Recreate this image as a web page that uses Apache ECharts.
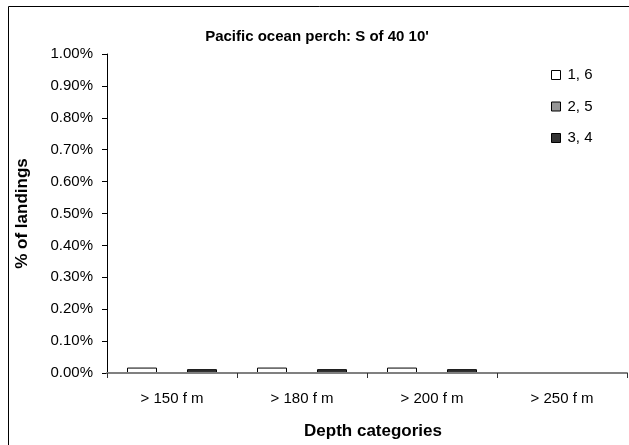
<!DOCTYPE html>
<html>
<head>
<meta charset="utf-8">
<script src="https://cdn.jsdelivr.net/npm/echarts@6/dist/echarts.min.js"></script>
<style>
html,body{margin:0;padding:0;background:#fff;}
#chart{width:629px;height:445px;}
</style>
</head>
<body>
<div id="chart"></div>
<script>
const categories = ['> 150 f m', '> 180 f m', '> 200 f m', '> 250 f m'];
const seriesNames = ['1, 6', '2, 5', '3, 4'];
const values16 = [0.017, 0.017, 0.017, 0];
const values25 = [0, 0, 0, 0];
const values34 = [0.012, 0.012, 0.012, 0];
const yTicks = [0, 0.1, 0.2, 0.3, 0.4, 0.5, 0.6, 0.7, 0.8, 0.9, 1.0];

const font = 'Liberation Sans, Arial, sans-serif';
const chart = echarts.init(document.getElementById('chart'));
const colors = ['#ffffff', '#969696', '#333333'];
const allValues = [values16, values25, values34];

chart.setOption({
  animation: false,
  textStyle: { fontFamily: font },
  graphic: [{
    type: 'rect',
    shape: { x: 8.5, y: 6.5, width: 640, height: 460 },
    style: { fill: 'none', stroke: '#000', lineWidth: 1 },
    silent: true, z: -1
  }],
  title: {
    text: "Pacific ocean perch: S of 40 10'",
    left: 317, top: 29, textAlign: 'center', padding: 0,
    textStyle: { fontFamily: font, fontSize: 15, fontWeight: 'bold', color: '#000' }
  },
  legend: {
    orient: 'vertical',
    left: 551, top: 67, padding: 0,
    itemWidth: 9, itemHeight: 9, itemGap: 15.5,
    icon: 'rect',
    data: seriesNames,
    itemStyle: { borderColor: '#000', borderWidth: 1 },
    textStyle: { fontFamily: font, fontSize: 15, lineHeight: 16, color: '#000', padding: [0, 0, 0, 2] }
  },
  grid: { left: 107, right: 2, top: 54, bottom: 72, containLabel: false },
  xAxis: {
    type: 'category',
    data: categories,
    z: 5,
    name: 'Depth categories',
    nameLocation: 'middle',
    nameGap: 50,
    nameTextStyle: { fontFamily: font, fontSize: 17, fontWeight: 'bold', color: '#000', padding: [0, 0, 0, 12] },
    axisLine: { lineStyle: { color: '#808080', width: 2 } },
    axisTick: { show: true, length: 5, lineStyle: { color: '#333' } },
    axisLabel: { fontFamily: font, fontSize: 15, color: '#000', margin: 18 },
    splitLine: { show: false }
  },
  yAxis: {
    type: 'value',
    min: 0, max: 1, interval: 0.1,
    name: '% of landings',
    nameLocation: 'middle',
    nameGap: 76,
    nameTextStyle: { fontFamily: font, fontSize: 17, fontWeight: 'bold', color: '#000' },
    axisLine: { show: true, lineStyle: { color: '#000', width: 1 } },
    axisTick: { show: true, length: 5, lineStyle: { color: '#000' } },
    axisLabel: {
      fontFamily: font, fontSize: 15, color: '#000', margin: 14,
      formatter: v => v.toFixed(2) + '%'
    },
    splitLine: { show: false }
  },
  series: seriesNames.map((n, i) => ({
    name: n,
    type: 'bar',
    data: allValues[i],
    barWidth: 30,
    barGap: '0%',
    itemStyle: { color: colors[i], borderColor: '#000', borderWidth: 1 }
  }))
});
</script>
</body>
</html>
